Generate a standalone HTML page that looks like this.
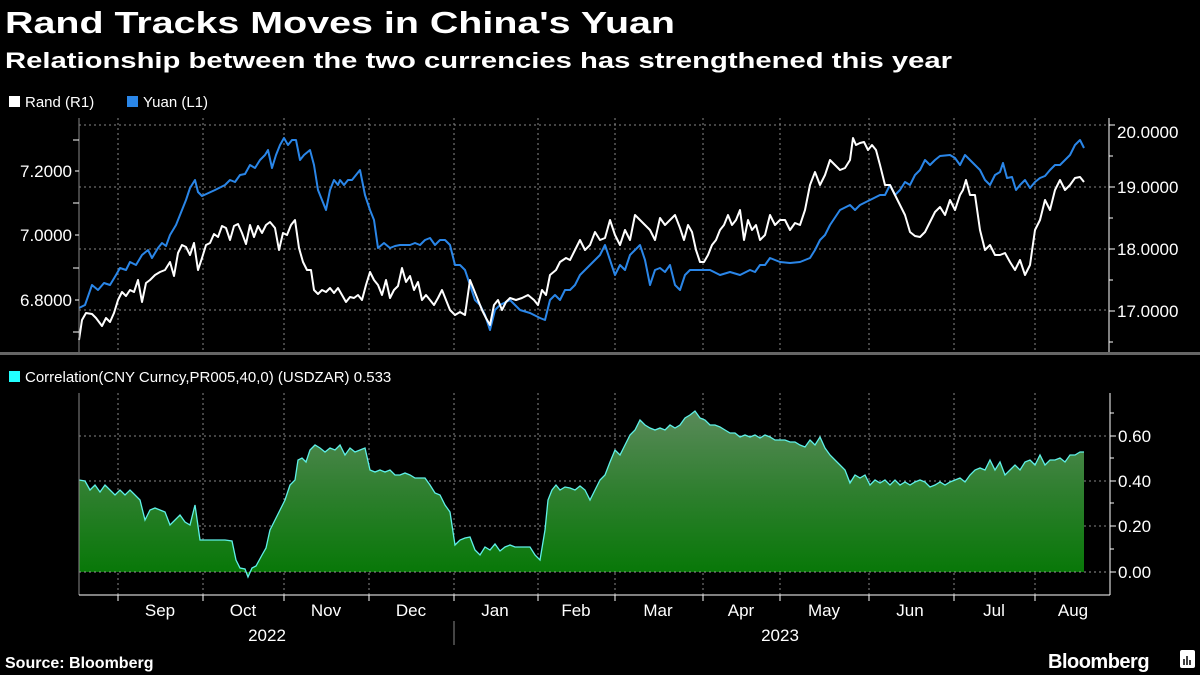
<!DOCTYPE html>
<html><head><meta charset="utf-8"><style>
html,body{margin:0;padding:0;background:#000;}
svg{display:block;font-family:"Liberation Sans",sans-serif;}
</style></head><body>
<svg width="1200" height="675" viewBox="0 0 1200 675" xmlns="http://www.w3.org/2000/svg">
<defs>
<linearGradient id="g" x1="0" y1="410" x2="0" y2="572" gradientUnits="userSpaceOnUse">
<stop offset="0" stop-color="#5a8a5a"/><stop offset="0.5" stop-color="#2f7f2f"/><stop offset="1" stop-color="#087808"/></linearGradient>
</defs>
<rect width="1200" height="675" fill="#000"/>
<text x="5" y="33" fill="#fff" font-size="31" font-weight="bold" textLength="670" lengthAdjust="spacingAndGlyphs">Rand Tracks Moves in China's Yuan</text>
<text x="5" y="68" fill="#fff" font-size="22" font-weight="bold" textLength="947" lengthAdjust="spacingAndGlyphs">Relationship between the two currencies has strengthened this year</text>
<rect x="9" y="96" width="11" height="11" fill="#fff"/>
<text x="25" y="107" fill="#fff" font-size="15">Rand (R1)</text>
<rect x="127" y="96" width="11" height="11" fill="#2a86e8"/>
<text x="143" y="107" fill="#fff" font-size="15">Yuan (L1)</text>
<g stroke="#888" stroke-width="1" stroke-dasharray="2,3">
<line x1="79" x2="1109" y1="125" y2="125"/><line x1="79" x2="1109" y1="187" y2="187"/><line x1="79" x2="1109" y1="249" y2="249"/><line x1="79" x2="1109" y1="310" y2="310"/>
<line x1="79" x2="1109" y1="436" y2="436"/><line x1="79" x2="1109" y1="481" y2="481"/><line x1="79" x2="1109" y1="526" y2="526"/>
</g>
<g stroke="#888" stroke-width="1" stroke-dasharray="2,3">
<path d="M118 118V352M203 118V352M284 118V352M369 118V352M454 118V352M538 118V352M615 118V352M703 118V352M780 118V352M869 118V352M954 118V352M1035 118V352"/>
<path d="M118 393V595M203 393V595M284 393V595M369 393V595M454 393V595M538 393V595M615 393V595M703 393V595M780 393V595M869 393V595M954 393V595M1035 393V595"/>
</g>
<path fill="url(#g)" stroke="none" d="M79 572 L79,480 85,481 90,490 95,485 100,492 105,485 110,490 115,495 120,490 125,495 130,490 135,495 140,500 145,520 150,510 155,508 160,510 165,512 170,525 175,520 180,515 185,522 190,525 195,505 200,540 205,540 210,540 225,540 232,541 236,560 240,568 245,569 248,577 252,568 256,566 262,555 266,548 270,530 275,520 280,510 285,500 290,485 295,480 298,460 302,458 306,462 310,450 315,445 320,448 325,452 330,448 335,450 340,445 345,455 350,448 355,452 360,450 365,448 370,470 375,472 380,470 385,472 390,470 395,475 400,475 405,473 410,475 415,478 420,478 425,478 430,485 435,493 440,495 445,505 450,512 455,545 460,540 465,538 470,537 475,550 480,555 485,547 490,550 495,544 500,551 505,547 510,545 515,547 520,547 530,547 535,555 540,560 545,530 548,500 552,490 556,485 560,490 565,487 570,488 575,490 580,486 585,490 590,500 595,490 600,480 605,475 610,462 615,450 620,455 625,445 630,435 635,430 640,420 645,425 650,428 655,430 660,428 665,430 670,425 675,428 680,425 685,418 690,415 695,411 700,418 705,420 710,425 715,425 720,427 725,430 730,433 735,433 740,437 745,435 750,437 755,435 760,438 765,435 770,437 775,440 780,440 785,440 790,442 795,442 800,445 805,447 810,440 815,445 820,437 825,448 830,455 835,460 840,465 845,470 850,483 855,475 860,478 865,475 870,485 875,480 880,483 885,480 890,485 895,480 900,485 905,482 910,485 915,482 920,480 925,482 930,487 935,485 940,482 945,485 950,482 955,480 960,478 965,482 970,475 975,470 980,468 985,470 990,460 995,470 1000,462 1005,475 1010,470 1015,465 1020,470 1025,462 1030,460 1035,465 1040,455 1045,465 1050,460 1055,460 1060,458 1065,462 1070,455 1075,455 1080,452 1084,452 L1084 572 Z"/>
<line x1="79" x2="1109" y1="572" y2="572" stroke="#999" stroke-dasharray="2,3"/>
<polyline fill="none" stroke="#5ff0e8" stroke-width="1.3" points="79,480 85,481 90,490 95,485 100,492 105,485 110,490 115,495 120,490 125,495 130,490 135,495 140,500 145,520 150,510 155,508 160,510 165,512 170,525 175,520 180,515 185,522 190,525 195,505 200,540 205,540 210,540 225,540 232,541 236,560 240,568 245,569 248,577 252,568 256,566 262,555 266,548 270,530 275,520 280,510 285,500 290,485 295,480 298,460 302,458 306,462 310,450 315,445 320,448 325,452 330,448 335,450 340,445 345,455 350,448 355,452 360,450 365,448 370,470 375,472 380,470 385,472 390,470 395,475 400,475 405,473 410,475 415,478 420,478 425,478 430,485 435,493 440,495 445,505 450,512 455,545 460,540 465,538 470,537 475,550 480,555 485,547 490,550 495,544 500,551 505,547 510,545 515,547 520,547 530,547 535,555 540,560 545,530 548,500 552,490 556,485 560,490 565,487 570,488 575,490 580,486 585,490 590,500 595,490 600,480 605,475 610,462 615,450 620,455 625,445 630,435 635,430 640,420 645,425 650,428 655,430 660,428 665,430 670,425 675,428 680,425 685,418 690,415 695,411 700,418 705,420 710,425 715,425 720,427 725,430 730,433 735,433 740,437 745,435 750,437 755,435 760,438 765,435 770,437 775,440 780,440 785,440 790,442 795,442 800,445 805,447 810,440 815,445 820,437 825,448 830,455 835,460 840,465 845,470 850,483 855,475 860,478 865,475 870,485 875,480 880,483 885,480 890,485 895,480 900,485 905,482 910,485 915,482 920,480 925,482 930,487 935,485 940,482 945,485 950,482 955,480 960,478 965,482 970,475 975,470 980,468 985,470 990,460 995,470 1000,462 1005,475 1010,470 1015,465 1020,470 1025,462 1030,460 1035,465 1040,455 1045,465 1050,460 1055,460 1060,458 1065,462 1070,455 1075,455 1080,452 1084,452"/>
<polyline fill="none" stroke="#2a86e8" stroke-width="2" stroke-linejoin="round" points="79,308 85,305 92,285 98,290 104,283 110,285 116,275 120,268 126,270 130,262 136,265 142,255 148,250 152,258 158,248 162,243 166,246 170,235 176,225 182,210 186,200 190,188 195,180 198,192 202,196 215,190 225,185 230,180 235,182 240,175 245,174 250,165 255,168 260,160 265,155 268,150 272,168 276,155 280,145 284,138 288,145 292,140 296,140 300,160 304,155 310,150 314,165 318,190 322,200 326,210 330,190 334,180 338,185 340,180 344,185 348,180 352,180 356,175 360,170 365,195 370,210 374,220 378,248 384,243 390,248 395,246 400,245 410,245 415,243 420,245 425,240 430,238 435,245 440,240 445,240 450,245 455,265 460,265 465,270 470,285 475,300 480,305 485,315 490,330 495,310 500,305 510,300 520,310 530,313 540,318 545,320 550,300 555,295 560,300 565,290 570,290 575,285 580,275 590,265 600,255 605,245 610,260 615,275 620,265 625,270 630,255 635,250 640,245 645,260 650,285 655,270 660,268 665,272 670,265 675,285 680,290 685,275 690,270 700,270 710,270 720,275 730,272 740,275 750,270 755,272 760,265 765,265 770,258 780,262 790,263 800,262 810,258 815,250 820,240 825,235 830,225 840,210 850,205 855,210 860,205 870,200 880,195 885,195 890,185 895,195 900,190 905,182 910,185 915,175 920,170 925,160 930,165 935,160 940,156 950,155 955,158 960,165 965,155 970,160 975,165 980,170 985,180 990,185 995,175 1000,172 1003,163 1007,178 1012,177 1016,190 1020,185 1025,180 1030,188 1035,182 1040,178 1045,176 1050,170 1055,165 1060,165 1065,160 1070,155 1075,145 1080,140 1084,148"/>
<polyline fill="none" stroke="#fff" stroke-width="2" stroke-linejoin="round" points="79,340 82,320 86,313 92,314 96,318 102,326 106,318 110,322 114,313 118,300 122,292 126,296 130,290 134,292 138,280 142,302 146,283 150,280 155,275 160,272 165,270 170,262 174,276 178,253 182,245 186,247 190,255 194,243 198,270 202,258 206,245 210,243 214,234 218,237 222,226 226,228 230,240 234,226 238,224 242,233 246,244 250,225 254,237 258,226 262,233 266,225 270,222 275,228 279,250 283,233 287,235 291,225 295,220 299,248 303,262 307,270 311,270 314,290 318,294 322,290 326,292 330,288 334,293 338,288 342,295 346,302 350,297 354,298 358,295 362,300 366,285 370,272 374,280 378,285 382,295 386,280 390,298 394,290 398,286 402,268 406,282 410,276 414,290 418,282 422,300 426,295 430,300 434,305 438,298 442,290 446,300 450,310 455,315 460,312 465,315 470,280 474,290 478,300 482,310 486,318 490,325 494,305 498,300 502,310 506,302 510,298 516,300 522,298 528,295 534,300 538,305 542,290 546,295 550,275 556,270 560,262 566,258 570,260 575,250 580,240 585,250 590,245 595,232 600,240 605,238 610,220 615,235 620,245 625,230 630,240 635,215 640,220 645,225 650,230 655,240 660,218 665,225 670,220 675,215 680,228 684,240 688,225 692,232 696,250 700,262 704,262 708,255 712,245 716,240 720,230 724,225 728,215 732,225 736,220 740,210 744,240 748,220 752,230 756,225 760,240 765,235 770,215 775,225 780,220 785,220 790,230 795,223 800,225 805,210 810,185 815,172 820,185 825,175 830,160 835,165 840,170 845,168 850,160 853,138 856,145 860,143 864,142 868,150 872,145 876,150 880,165 885,185 890,185 895,195 900,205 905,215 910,232 915,236 920,237 925,232 930,222 935,212 940,207 945,215 950,200 955,210 960,195 963,190 966,180 970,195 975,195 980,230 985,250 990,245 995,255 1000,255 1005,253 1010,262 1015,270 1020,260 1025,275 1030,265 1035,230 1040,220 1045,200 1050,210 1055,190 1060,180 1065,190 1070,185 1075,178 1080,177 1084,182"/>
<!-- axes -->
<g stroke="#fff" stroke-width="1">
<line x1="79" y1="118" x2="79" y2="352" stroke="#888"/>
<line x1="1109" y1="118" x2="1109" y2="352"/>
<line x1="79" y1="393" x2="79" y2="595" stroke="#888"/>
<line x1="1110" y1="393" x2="1110" y2="595"/>
<line x1="79" y1="595" x2="1110" y2="595"/>
<path d="M1109 125h6M1109 156h4M1109 187h6M1109 218h4M1109 249h6M1109 280h4M1109 311h6M1109 342h4"/>
<path d="M73 140h6M75 171h4M73 203h6M75 235h4M73 268h6M75 300h4M73 332h6"/>
<path d="M1110 413h4M1110 436h6M1110 458h4M1110 481h6M1110 503h4M1110 526h6M1110 549h4M1110 572h6"/>
<path d="M118 595v6M203 595v6M284 595v6M369 595v6M454 595v6M538 595v6M615 595v6M703 595v6M780 595v6M869 595v6M954 595v6M1035 595v6"/>
</g>
<rect x="0" y="352" width="1200" height="3" fill="#666"/>
<g fill="#fff" font-size="17">
<text x="72" y="177" text-anchor="end">7.2000</text>
<text x="72" y="241" text-anchor="end">7.0000</text>
<text x="72" y="306" text-anchor="end">6.8000</text>
<text x="1117" y="138">20.0000</text>
<text x="1117" y="193">19.0000</text>
<text x="1117" y="255">18.0000</text>
<text x="1117" y="317">17.0000</text>
<text x="1118" y="442">0.60</text>
<text x="1118" y="487">0.40</text>
<text x="1118" y="532">0.20</text>
<text x="1118" y="578">0.00</text>
<g text-anchor="middle">
<text x="160" y="616">Sep</text><text x="243" y="616">Oct</text><text x="326" y="616">Nov</text><text x="411" y="616">Dec</text><text x="495" y="616">Jan</text><text x="576" y="616">Feb</text><text x="658" y="616">Mar</text><text x="741" y="616">Apr</text><text x="824" y="616">May</text><text x="910" y="616">Jun</text><text x="994" y="616">Jul</text><text x="1073" y="616">Aug</text>
<text x="267" y="641">2022</text><text x="780" y="641">2023</text>
</g>
</g>
<line x1="454" y1="621" x2="454" y2="645" stroke="#888"/>
<rect x="9" y="371" width="11" height="11" fill="#2ff"/>
<text x="25" y="382" fill="#fff" font-size="15">Correlation(CNY Curncy,PR005,40,0) (USDZAR) 0.533</text>
<text x="5" y="668" fill="#fff" font-size="16" font-weight="bold">Source: Bloomberg</text>
<text x="1048" y="668" fill="#fff" font-size="20" font-weight="bold" letter-spacing="-0.5">Bloomberg</text>
<rect x="1180" y="650" width="15" height="18" rx="2" fill="#fff"/>
<path d="M1184 665v-6M1187 665v-9M1190 665v-5" stroke="#000" stroke-width="1.5"/>
</svg>
</body></html>
